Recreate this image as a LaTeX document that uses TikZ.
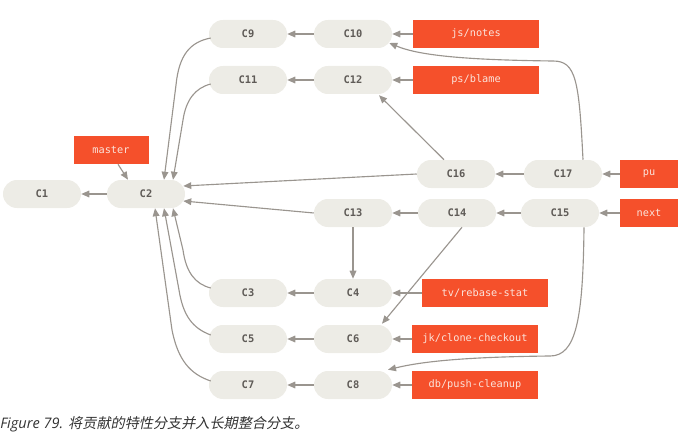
\documentclass[tikz,border=0pt]{standalone}
\usepackage{fontspec}
\usetikzlibrary{arrows.meta,calc}
\newfontfamily\monofont{DejaVu Sans Mono}
\newfontfamily\capfont{Open Sans}
\newfontfamily\cjkfont[FakeSlant=0.2]{Noto Sans CJK SC}
\definecolor{pill}{HTML}{EDECE6}
\definecolor{pilltext}{HTML}{5F5B57}
\definecolor{tag}{HTML}{F5502B}
\definecolor{tagtext}{HTML}{FBE4DC}
\definecolor{linkcol}{HTML}{9A958F}
\definecolor{captext}{HTML}{333333}
\tikzset{
  commit/.style={rectangle, rounded corners=10.4pt, fill=pill, minimum width=58.5pt,
    minimum height=21pt, inner sep=0pt, text=pilltext, font=\monofont\bfseries\fontsize{7.8}{9}\selectfont},
  branch/.style={rectangle, fill=tag, minimum height=21pt, inner sep=0pt, text=tagtext,
    font=\monofont\fontsize{7.7}{9}\selectfont},
  wide/.style={branch, minimum width=94.5pt},
  narrow/.style={branch, minimum width=43.5pt},
  link/.style={draw=linkcol, line width=0.85pt,
    -{Triangle[length=6pt,width=5pt,fill=linkcol]}},
}
\begin{document}
\begin{tikzpicture}[x=0.75pt,y=-0.75pt]
\useasboundingbox (0,0) rectangle (688,442);

% commits
\node[commit] (C1)  at (42,194)  {C1};
\node[commit] (C2)  at (146,194) {C2};
\node[commit] (C9)  at (248,34)  {C9};
\node[commit] (C10) at (353,34)  {C10};
\node[commit] (C11) at (248,80)  {C11};
\node[commit] (C12) at (353,80)  {C12};
\node[commit] (C16) at (456,174) {C16};
\node[commit] (C17) at (563,174) {C17};
\node[commit] (C13) at (353,213) {C13};
\node[commit] (C14) at (457,213) {C14};
\node[commit] (C15) at (560,213) {C15};
\node[commit] (C3)  at (248,293) {C3};
\node[commit] (C4)  at (353,293) {C4};
\node[commit] (C5)  at (248,339) {C5};
\node[commit] (C6)  at (353,339) {C6};
\node[commit] (C7)  at (248,385) {C7};
\node[commit] (C8)  at (353,385) {C8};

% branch labels
\node[branch, minimum width=56.25pt] (master) at (111,150) {master};
\node[wide]   (jsnotes) at (476,34)  {js/notes};
\node[wide]   (psblame) at (476,80)  {ps/blame};
\node[narrow] (pu)      at (649,174) {pu};
\node[narrow] (next)    at (649,213) {next};
\node[wide]   (tvrebase) at (485,293) {tv/rebase-stat};
\node[wide]   (jkclone)  at (475,339) {jk/clone-checkout};
\node[wide]   (dbpush)   at (475,385) {db/push-cleanup};

% caption
\node[anchor=base west, inner sep=0pt, text=captext] (caption) at (0,428)
  {\capfont\itshape\fontsize{10.9}{12}\selectfont Figure 79. \cjkfont\fontsize{10.6}{12}\selectfont 将贡献的特性分支并入长期整合分支。};

% straight parent links
\draw[link] (C2) -- (C1);
\draw[link] (C10) -- (C9);
\draw[link] (C12) -- (C11);
\draw[link] (C17) -- (C16);
\draw[link] (C14) -- (C13);
\draw[link] (C15) -- (C14);
\draw[link] (C4) -- (C3);
\draw[link] (C6) -- (C5);
\draw[link] (C8) -- (C7);
\draw[link] (C13) -- (C4);
\draw[link] (C16.west) -- ($(C2.east)+(-2,-8)$);
\draw[link] (C13.west) -- ($(C2.east)+(-2,7)$);
\draw[link] ($(C16.north)+(-12,0)$) -- ($(C12.south)+(26,1)$);
\draw[link] ($(C14.south)+(5,0)$) -- ($(C6.north)+(29,-1)$);

% branch pointers
\draw[link] ($(master.south)+(7,0)$) -- ($(C2.north)+(-18,0)$);
\draw[link] (jsnotes) -- (C10);
\draw[link] (psblame) -- (C12);
\draw[link] (pu) -- (C17);
\draw[link] (next) -- (C15);
\draw[link] (tvrebase) -- (C4);
\draw[link] (jkclone) -- (C6);
\draw[link] (dbpush) -- (C8);

% curved links into C2
\draw[link] ($(C9.west)+(2,4)$) .. controls (190,42) and (179,55) .. (176,85)
  -- ($(C2.north)+(18,0)$);
\draw[link] ($(C11.west)+(2,4)$) .. controls (195,88) and (186,100) .. (183,120)
  -- ($(C2.north)+(27,0)$);
\draw[link] ($(C3.west)+(2,-5)$) .. controls (195,284) and (186,272) .. (183,250)
  -- ($(C2.south)+(27,0)$);
\draw[link] ($(C5.west)+(2,-4)$) .. controls (192,328) and (183,315) .. (179,290)
  -- ($(C2.south)+(18,0)$);
\draw[link] ($(C7.west)+(2,-4)$) .. controls (190,374) and (178,360) .. (172,330)
  -- ($(C2.south)+(9,0)$);

% long merges
\draw[link] ($(C17.north)+(20,0)$) .. controls (579,80) and (576,61) .. (553,61)
  .. controls (470,60) and (420,56) .. ($(C10.east)+(-3,9)$);
\draw[link] ($(C15.south)+(24,0)$) .. controls (583,320) and (576,356) .. (550,356)
  .. controls (460,357) and (420,362) .. ($(C8.north)+(35,-1)$);
\end{tikzpicture}
\end{document}
